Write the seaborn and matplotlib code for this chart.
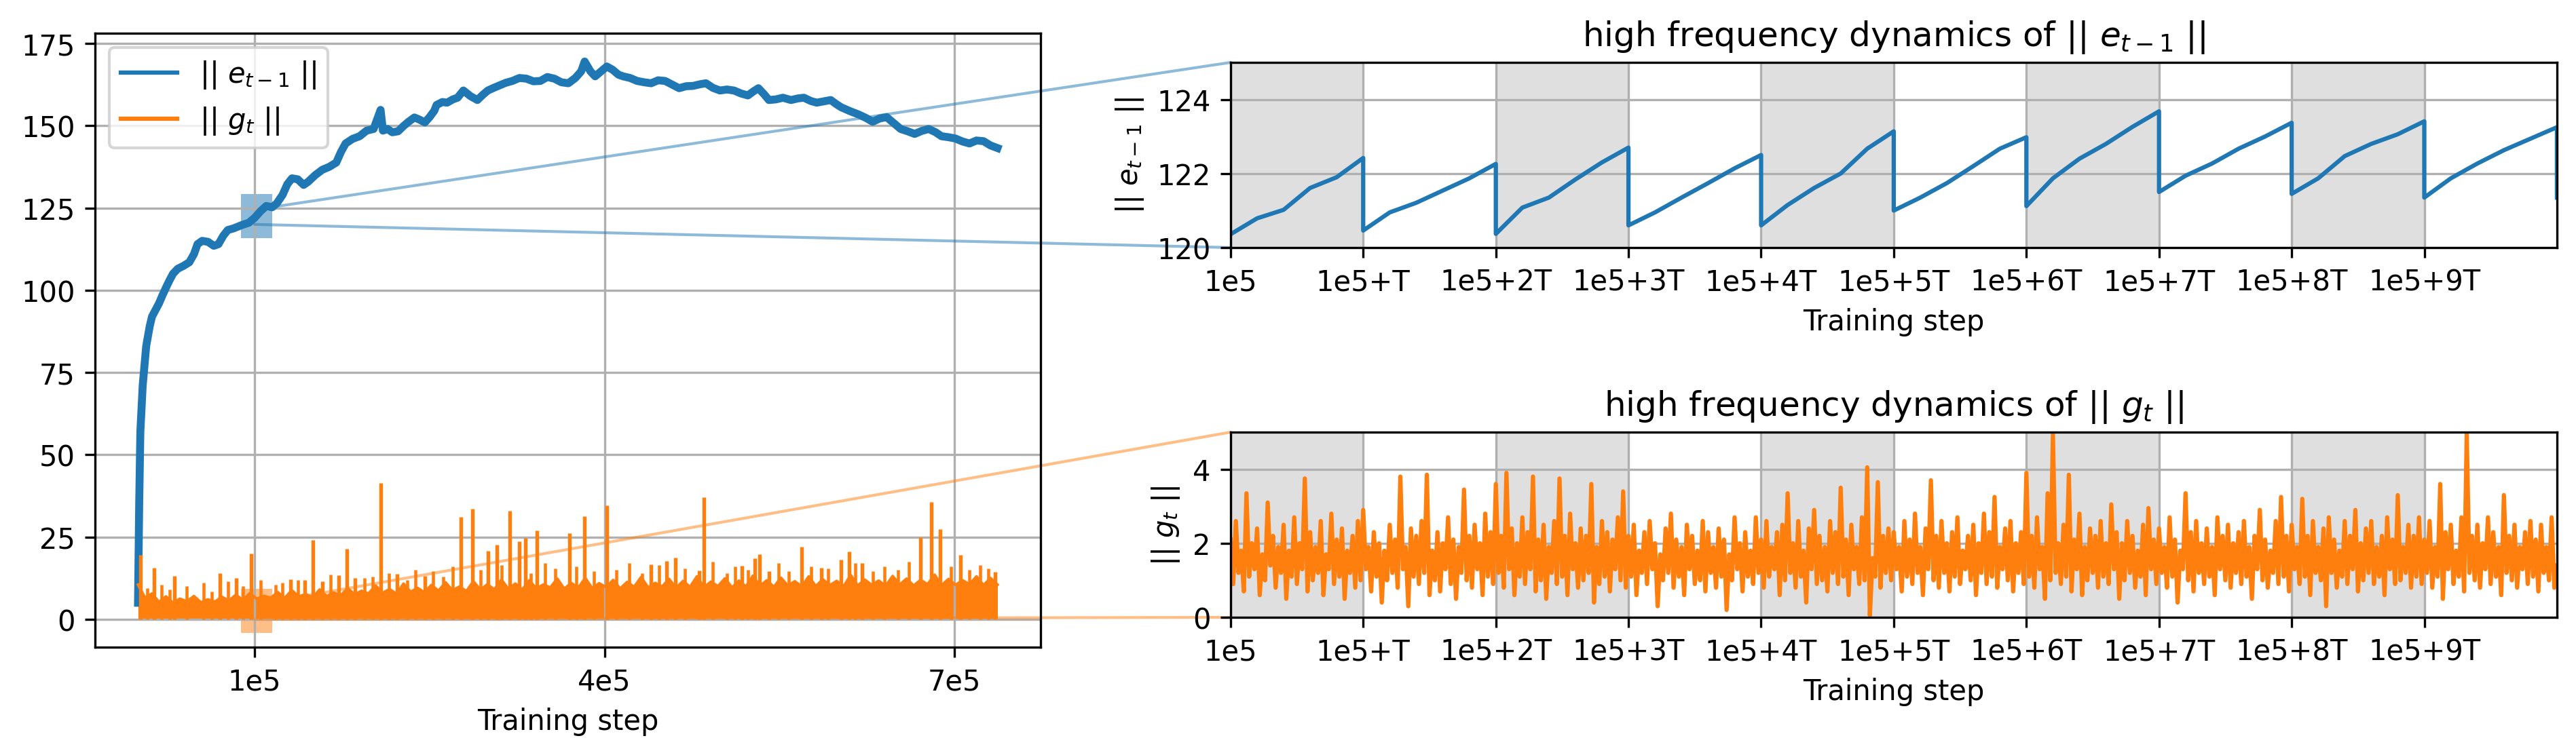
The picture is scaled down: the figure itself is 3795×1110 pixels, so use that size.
import numpy as np
import seaborn as sns
import matplotlib.pyplot as plt
from matplotlib.patches import Rectangle, ConnectionPatch

BLUE = '#1f77b4'
ORANGE = '#ff7f0e'

# ---- full run (x in thousands of steps) ----
e_step_k = [0, 1, 2, 4, 7, 10, 12, 15, 18, 21, 24, 27, 30, 34, 39, 44, 48, 51, 55, 60,
            65, 69, 73, 77, 82, 89, 95, 100, 105, 110, 115, 119, 124, 128, 132, 137, 142, 146, 152, 158,
            164, 170, 174, 178, 184, 190, 196, 202, 208, 210, 214, 218, 223, 228, 232, 237, 241, 246, 250, 254,
            256, 261, 265, 270, 274, 279, 285, 291, 296, 300, 305, 309, 315, 321, 327, 333, 339, 345, 351, 357,
            363, 369, 375, 380, 383, 388, 392, 397, 402, 407, 412, 416, 422, 428, 434, 440, 446, 452, 458, 464,
            470, 476, 482, 487, 493, 499, 505, 511, 517, 523, 528, 532, 537, 541, 547, 553, 560, 566, 571, 577,
            582, 588, 594, 599, 603, 610, 618, 624, 630, 636, 642, 648, 654, 660, 666, 672, 678, 684, 689, 695,
            701, 707, 713, 719, 725, 731, 737]
e_norm = [5, 35, 57, 71, 83, 89, 92, 94, 96, 98.5, 100.8, 103, 105, 106.5, 107.4, 108.5, 111, 114, 115, 114.7,
          113.5, 114, 116.5, 118.3, 118.8, 119.8, 120.5, 122, 124, 125.6, 125.2, 126.4, 129, 132.2, 134, 133.7, 132, 133, 135, 136.6,
          137.5, 138.8, 142, 144.6, 146, 146.8, 148.5, 149, 154.8, 148.5, 149, 148, 148.3, 150, 151.2, 152.5, 151.9, 151, 152.6, 154.5,
          156.3, 157.2, 157, 158, 158.5, 160.7, 159, 157.8, 159.5, 160.7, 161.5, 162.1, 163, 163.6, 164.5, 164.3, 163.5, 163.6, 164.8, 164.3,
          163.2, 162.9, 164.5, 166.5, 169.5, 166.5, 165, 166.5, 168, 167, 165.5, 165, 164.5, 163.6, 163.2, 162.9, 163.8, 163.6, 162.5, 161.4,
          162, 162.1, 162.6, 162.9, 161.5, 160.7, 161, 160.7, 159.8, 159.2, 160.5, 161.4, 159.5, 157.8, 158, 158.5, 157.8, 158.3, 158.5, 157.5,
          157, 157.4, 157.8, 156.5, 155.6, 154.5, 153.4, 152.4, 151.2, 152.2, 152.6, 150.8, 149, 148.3, 147.5, 148.4, 149, 148, 146.8, 146.5,
          146.1, 145.2, 144.6, 145.5, 145.3, 144, 143.2]

# upper edge of the dense ||g_t|| band, sampled evenly over 0..737k steps
g_band_top = [10.5, 6.5, 7.8, 5.2, 6.9, 5.0, 6.2, 5.4, 7.0, 5.1, 6.0, 5.3, 6.8, 5.6, 7.4, 5.8, 7.9, 6.2,
              7.1, 6.5, 8.2, 6.4, 8.8, 6.9, 7.6, 6.6, 9.0, 7.0, 8.1, 7.2, 9.4, 7.5, 8.6, 7.8, 10.2, 8.0,
              9.1, 7.7, 10.8, 8.3, 9.5, 8.1, 10.4, 8.6, 11.2, 8.7, 9.9, 8.5, 11.5, 8.9, 10.6, 9.0, 12.0, 9.2,
              10.8, 9.0, 11.8, 9.3, 10.5, 9.6, 12.3, 9.2, 11.0, 9.5, 12.5, 9.4, 10.9, 9.7, 11.9, 9.3, 11.3, 9.8,
              12.8, 9.6, 11.0, 9.9, 12.2, 9.5, 11.6, 9.8, 13.0, 9.7, 11.4, 10.0, 12.4, 9.6, 11.7, 9.9, 13.2, 10.1,
              11.8, 9.8, 12.6, 10.2, 11.5, 9.9, 13.0, 10.0, 12.1, 10.3, 11.6, 10.0, 13.4, 10.2, 12.0, 10.4, 11.7, 10.1,
              13.1, 10.5, 12.3, 10.2, 11.9, 10.6, 13.5, 10.3, 12.2, 10.4, 11.8, 10.6, 13.0, 10.3, 12.5, 10.5]
g_spike_k = [2, 14, 31, 70, 84, 97, 131, 143, 150, 158, 172, 179, 186, 208, 222, 246, 277, 287, 300, 308,
             319, 327, 332, 342, 370, 383, 402, 440, 453, 461, 481, 485, 518, 529, 533, 541, 569, 586, 603, 610,
             621, 671, 680, 688, 705, 735]
g_spike = [19.5, 15.7, 13.1, 14, 12.5, 20, 12.1, 11.9, 24, 11.6, 13.3, 21.4, 12.5, 41.3, 13.8, 13.1, 31.1, 33.5, 20.7, 22.6,
           32.9, 23.6, 24.6, 26.9, 26.2, 31.3, 34.6, 16.7, 17.6, 18.8, 14.9, 37.1, 16.3, 18.6, 19.7, 14.5, 22.1, 15.6, 18, 20.5,
           17.1, 24.9, 35.7, 27.3, 19.5, 14.3]
g_small_spike_k = [8, 20, 27, 42, 56, 63, 77, 90, 105, 118, 124, 137, 165, 194, 201, 215, 231, 238, 253, 262,
                   270, 294, 312, 337, 349, 358, 376, 391, 410, 421, 432, 447, 469, 493, 505, 512, 523, 549, 558, 577,
                   592, 615, 630, 640, 652, 661, 697, 713, 722, 729]
g_small_spike = [9.5, 10.5, 9, 10, 11, 8.5, 11.5, 10, 12, 10.5, 11, 12, 13.5, 12.5, 13, 14, 12, 15, 14.5, 13,
                 16, 15, 16.5, 14, 17, 15.5, 16, 14.5, 15, 17, 14, 16.5, 15.5, 17.5, 14, 16, 15, 17, 14.5, 16,
                 15.5, 17, 14.5, 16, 15, 17.5, 16, 15, 16.5, 15.5]
run_end_k = 737

# ---- zoomed window: 10 periods of length T starting at step 1e5 ----
start_step = 100000
T = 1000
saw_phase = [0, 0.2, 0.4, 0.6, 0.8, 1.0]
saw_e = [
    [120.36, 120.79, 121.02, 121.61, 121.90, 122.42],
    [120.46, 120.95, 121.21, 121.54, 121.87, 122.26],
    [120.37, 121.08, 121.35, 121.84, 122.30, 122.70],
    [120.60, 120.95, 121.35, 121.74, 122.14, 122.50],
    [120.60, 121.15, 121.61, 122.00, 122.67, 123.14],
    [121.00, 121.35, 121.74, 122.20, 122.67, 122.98],
    [121.12, 121.87, 122.40, 122.80, 123.26, 123.68],
    [121.50, 121.94, 122.27, 122.67, 123.00, 123.37],
    [121.45, 121.87, 122.47, 122.80, 123.06, 123.41],
    [121.35, 121.87, 122.27, 122.63, 122.94, 123.25],
]
saw_after_drop = 121.35

# ||g_t|| inside the window: local highs on a grid of T/25, local lows halfway between them
g_zoom_hi = [2.1, 2.6, 1.8, 3.35, 2.0, 2.4, 1.7, 3.1, 2.2, 1.9, 2.5, 1.8, 2.7, 2.0, 3.75, 2.3, 1.9, 2.6, 1.7, 2.8, 2.1, 2.4, 1.8, 2.2, 2.6,
             2.9, 1.9, 2.3, 2.0, 1.8, 2.5, 2.1, 3.8, 1.9, 2.4, 2.2, 2.6, 3.85, 1.8, 2.3, 2.0, 2.7, 2.1, 1.9, 3.45, 2.2, 2.5, 2.0, 2.8, 2.3,
             3.6, 2.2, 3.9, 2.4, 2.0, 2.7, 2.3, 3.8, 2.1, 2.5, 1.9, 2.6, 3.75, 2.2, 2.8, 2.0, 2.4, 2.2, 3.6, 1.9, 2.6, 2.3, 2.1, 2.7, 3.4,
             2.2, 2.5, 1.8, 2.3, 2.6, 2.0, 1.7, 2.4, 2.8, 2.1, 1.9, 2.5, 2.2, 1.8, 2.6, 2.3, 1.9, 2.4, 2.1, 1.7, 2.7, 2.0, 2.3, 1.8, 2.7,
             2.1, 2.6, 1.9, 2.3, 2.5, 3.35, 2.0, 2.6, 1.8, 2.4, 2.9, 2.2, 1.9, 2.6, 2.3, 3.5, 2.1, 2.5, 1.9, 2.7, 4.05, 1.6, 3.65, 2.2, 2.4,
             2.3, 1.9, 2.6, 2.1, 2.8, 1.9, 2.4, 3.7, 2.2, 2.6, 2.0, 2.3, 2.7, 1.8, 2.2, 2.5, 2.0, 2.8, 2.3, 3.25, 1.9, 2.4, 2.6, 2.0, 2.3,
             3.9, 2.2, 2.7, 1.9, 3.35, 4.95, 2.0, 2.5, 3.85, 2.1, 2.8, 1.9, 2.4, 2.2, 2.6, 2.0, 3.05, 2.3, 2.0, 2.6, 2.2, 1.8, 2.5, 2.95, 2.1,
             2.4, 1.9, 2.7, 2.1, 1.8, 3.35, 2.3, 2.6, 2.0, 2.4, 1.9, 2.7, 2.2, 2.5, 2.0, 2.3, 2.6, 1.9, 2.2, 2.9, 2.1, 1.8, 2.6, 3.25, 2.2,
             2.5, 1.9, 3.2, 2.2, 2.6, 1.9, 2.4, 2.7, 2.1, 1.8, 2.6, 2.2, 2.9, 2.0, 2.4, 2.6, 1.9, 2.2, 2.7, 2.1, 3.3, 1.9, 2.5, 2.2, 2.7,
             2.1, 2.6, 1.9, 3.6, 2.3, 2.5, 1.8, 2.7, 4.95, 2.2, 2.5, 2.0, 2.7, 2.3, 1.9, 3.3, 2.2, 2.5, 1.9, 2.3, 2.6, 2.1, 2.5, 1.9, 2.7, 1.4]
g_zoom_lo = [0.9, 1.2, 0.7, 1.1, 1.3, 0.6, 1.0, 1.4, 0.8, 1.2, 0.5, 1.1, 0.9, 1.3, 0.7, 1.0, 1.2, 0.6, 1.3, 0.9, 1.1, 0.5, 1.2, 0.8, 1.0,
             1.3, 0.7, 1.1, 0.4, 1.0, 1.2, 0.8, 1.3, 0.3, 1.1, 0.9, 1.2, 0.6, 1.0, 0.7, 1.3, 0.9, 0.5, 1.2, 1.0, 0.8, 1.3, 0.6, 1.1, 0.9,
             1.2, 0.8, 1.3, 0.6, 1.1, 0.9, 1.3, 0.7, 1.0, 0.5, 1.2, 0.9, 1.1, 0.6, 1.3, 0.8, 1.0, 1.2, 0.4, 0.9, 1.1, 0.7, 1.3, 1.0, 0.8,
             1.1, 0.6, 1.2, 0.9, 1.3, 0.3, 1.0, 1.2, 0.8, 1.1, 0.6, 1.3, 0.9, 1.0, 0.7, 1.2, 0.8, 1.1, 0.2, 1.0, 1.3, 0.7, 1.1, 0.9, 1.2,
             0.8, 1.1, 1.3, 0.6, 1.0, 1.2, 0.8, 1.1, 0.4, 1.3, 0.9, 1.0, 0.7, 1.2, 0.9, 1.1, 0.6, 1.3, 0.9, 1.0, 0.05, 1.1, 0.8, 1.2, 1.0,
             1.3, 0.7, 1.1, 0.9, 1.2, 0.6, 1.3, 1.0, 0.8, 1.2, 0.7, 1.1, 0.9, 1.3, 1.0, 0.6, 1.2, 0.9, 1.1, 0.8, 1.3, 1.0, 0.7, 1.2, 0.9,
             1.1, 0.8, 1.3, 0.5, 1.0, 1.2, 0.9, 1.1, 0.7, 1.3, 0.6, 1.0, 1.2, 0.8, 1.1, 0.9, 1.3, 0.5, 1.0, 1.2, 0.8, 1.1, 0.6, 1.3, 0.9,
             1.2, 0.8, 1.1, 0.4, 1.3, 1.0, 0.7, 1.2, 0.9, 1.1, 0.6, 1.3, 1.0, 0.8, 1.2, 0.9, 1.1, 0.5, 1.3, 1.0, 0.8, 1.2, 0.9, 1.1, 0.7,
             1.3, 0.9, 1.1, 0.6, 1.2, 1.0, 0.3, 1.2, 0.8, 1.1, 0.9, 1.3, 0.7, 1.0, 1.2, 0.9, 1.1, 0.6, 1.3, 0.9, 1.0, 1.2, 0.8, 1.1, 0.9,
             1.2, 0.8, 1.1, 0.5, 1.3, 0.9, 1.1, 0.7, 1.2, 1.0, 0.8, 1.3, 0.9, 1.1, 0.6, 1.2, 1.0, 0.8, 1.3, 0.9, 1.1, 0.7, 1.2, 1.0, 0.8]

tick_labels = ['1e5', '1e5+T', '1e5+2T', '1e5+3T', '1e5+4T', '1e5+5T', '1e5+6T', '1e5+7T', '1e5+8T', '1e5+9T']

e_label = r'|| $e_{t-1}$ ||'
g_label = r'|| $g_t$ ||'

# series in steps
e_x = np.array(e_step_k) * 1000
band_x = np.linspace(0, run_end_k * 1000, len(g_band_top))
spike_x = np.array(g_spike_k) * 1000
small_spike_x = np.array(g_small_spike_k) * 1000

saw_x, saw_y = [], []
for k, seg in enumerate(saw_e):
    for p, v in zip(saw_phase, seg):
        saw_x.append(start_step + (k + p) * T)
        saw_y.append(v)
saw_x.append(start_step + 10 * T)
saw_y.append(saw_after_drop)

grid_step = 10 * T / (len(g_zoom_hi) - 1)
gz_x, gz_y = [], []
for i, v in enumerate(g_zoom_hi):
    gz_x.append(start_step + i * grid_step)
    gz_y.append(v)
    if i < len(g_zoom_lo):
        gz_x.append(start_step + (i + 0.5) * grid_step)
        gz_y.append(g_zoom_lo[i])

fig = plt.figure(figsize=(12.65, 3.7033), dpi=300)
ax0 = fig.add_axes([0.0369, 0.1404, 0.367, 0.8146])
ax1 = fig.add_axes([0.4777, 0.6706, 0.5149, 0.2457])
ax2 = fig.add_axes([0.4777, 0.1800, 0.5149, 0.2457])

# left: whole training run
sns.lineplot(x=e_x, y=e_norm, ax=ax0, color=BLUE, lw=2.8, label=e_label, estimator=None, sort=False)
sns.lineplot(x=band_x, y=g_band_top, ax=ax0, color=ORANGE, lw=1.0, label=g_label, estimator=None, sort=False)
ax0.fill_between(band_x, 0, g_band_top, color=ORANGE, lw=0)
ax0.vlines(spike_x, 0, g_spike, color=ORANGE, lw=1.3)
ax0.vlines(small_spike_x, 0, g_small_spike, color=ORANGE, lw=1.1)
ax0.set_xlim(-0.05 * run_end_k * 1000, 1.05 * run_end_k * 1000)
ax0.set_ylim(-8.5, 178.1)
ax0.set_xticks([100000, 400000, 700000])
ax0.set_xticklabels(['1e5', '4e5', '7e5'])
ax0.set_xlabel('Training step')
ax0.grid(True)
leg = ax0.legend(loc='upper left')
for h in leg.get_lines():
    h.set_linewidth(1.5)

# zoom markers on the left panel
rx0, rx1 = start_step - 12000, start_step + 15000
ax0.add_patch(Rectangle((rx0, 115.9), rx1 - rx0, 13.4, color=BLUE, alpha=0.5, lw=0, zorder=1))
ax0.add_patch(Rectangle((rx0, -4.1), rx1 - rx0, 13.4, color=ORANGE, alpha=0.5, lw=0, zorder=1))

# right top: e_{t-1}
for k in range(0, 10, 2):
    ax1.axvspan(start_step + k * T, start_step + (k + 1) * T, color='gray', alpha=0.25, lw=0)
sns.lineplot(x=saw_x, y=saw_y, ax=ax1, color=BLUE, lw=1.5, estimator=None, sort=False)
ax1.set_xlim(start_step, start_step + 10 * T)
ax1.set_ylim(120, 125)
ax1.set_yticks([120, 122, 124])
ax1.set_xticks([start_step + k * T for k in range(10)])
ax1.set_xticklabels(tick_labels)
ax1.set_xlabel('Training step')
ax1.set_ylabel(e_label)
ax1.set_title('high frequency dynamics of ' + e_label)
ax1.grid(True)

# right bottom: g_t
for k in range(0, 10, 2):
    ax2.axvspan(start_step + k * T, start_step + (k + 1) * T, color='gray', alpha=0.25, lw=0)
sns.lineplot(x=gz_x, y=gz_y, ax=ax2, color=ORANGE, lw=1.5, estimator=None, sort=False)
ax2.set_xlim(start_step, start_step + 10 * T)
ax2.set_ylim(0, 5)
ax2.set_yticks([0, 2, 4])
ax2.set_xticks([start_step + k * T for k in range(10)])
ax2.set_xticklabels(tick_labels)
ax2.set_xlabel('Training step')
ax2.set_ylabel(g_label)
ax2.set_title('high frequency dynamics of ' + g_label)
ax2.grid(True)

# connector lines
for ax_in, (ylo, yhi), col in [(ax1, (120, 125), BLUE), (ax2, (0, 5), ORANGE)]:
    for xa, ya, corner in [(start_step + 10 * T, yhi, (0, 1)), (start_step, ylo, (0, 0))]:
        con = ConnectionPatch(xyA=(xa, ya), coordsA=ax0.transData, xyB=corner, coordsB=ax_in.transAxes,
                              color=col, alpha=0.5, lw=1.0, zorder=1.6, clip_on=False)
        ax0.add_artist(con)

fig.savefig('out.png', dpi=300)
